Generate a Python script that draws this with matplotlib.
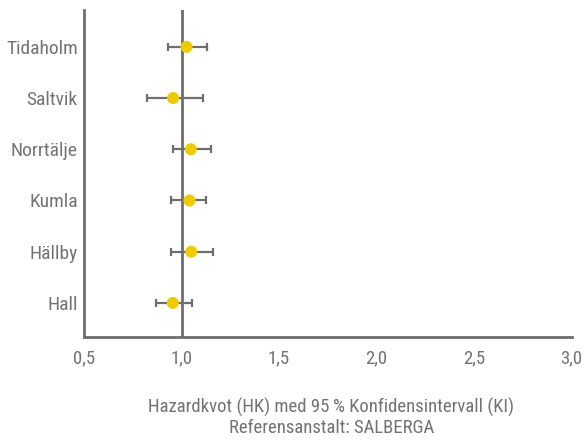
import matplotlib
matplotlib.use("Agg")
import matplotlib.pyplot as plt
from matplotlib import font_manager as fm

names = sorted({f.name for f in fm.fontManager.ttflist})
fam = ['Liberation Sans Narrow', 'Roboto Condensed', 'DejaVu Sans']
avail = [f for f in fam if f in names]
plt.rcParams['font.family'] = avail

categories = ["Hall", "Hällby", "Kumla", "Norrtälje", "Saltvik", "Tidaholm"]
hr = [0.955, 1.05, 1.041, 1.048, 0.957, 1.026]
ci_low = [0.870, 0.947, 0.947, 0.954, 0.824, 0.932]
ci_high = [1.053, 1.163, 1.128, 1.152, 1.111, 1.133]
xticks = [0.5, 1.0, 1.5, 2.0, 2.5, 3.0]
xticklabels = ["0,5", "1,0", "1,5", "2,0", "2,5", "3,0"]

gray = "#6e6e6e"
textc = "#737373"
yellow = "#EECB00"

fig = plt.figure(figsize=(5.87, 4.44), dpi=100)
ax = fig.add_axes([0.1431, 0.2417, 0.8305, 0.7358])

ypos = list(range(len(categories)))
err = [[h - l for h, l in zip(hr, ci_low)], [u - h for h, u in zip(hr, ci_high)]]
ax.axvline(1.0, color=gray, lw=2, zorder=1)
ax.errorbar(hr, ypos, xerr=err, fmt='none', ecolor=gray, elinewidth=1.6,
            capsize=3, capthick=1.6, zorder=2)
ax.scatter(hr, ypos, s=75, color=yellow, zorder=3, edgecolors='none')

ax.set_xlim(0.5, 3.0)
ax.set_ylim(-0.66, 5.72)
ax.set_yticks(ypos)
ax.set_yticklabels(categories, fontsize=14, color=textc)
ax.set_xticks(xticks)
ax.set_xticklabels(xticklabels, fontsize=13.5, color=textc)
ax.tick_params(axis='y', length=0, pad=4.5)
ax.tick_params(axis='x', length=0, pad=9)
for s in ['top', 'right']:
    ax.spines[s].set_visible(False)
for s in ['left', 'bottom']:
    ax.spines[s].set_color(gray)
    ax.spines[s].set_linewidth(2)

fig.text(0.5645, 1 - 407/444, "Hazardkvot (HK) med 95\u2009% Konfidensintervall (KI)",
         ha='center', va='center', fontsize=13.5, color=textc)
fig.text(0.5645, 1 - 428/444, "Referensanstalt: SALBERGA",
         ha='center', va='center', fontsize=13.5, color=textc)

fig.savefig("out.png", dpi=100)
